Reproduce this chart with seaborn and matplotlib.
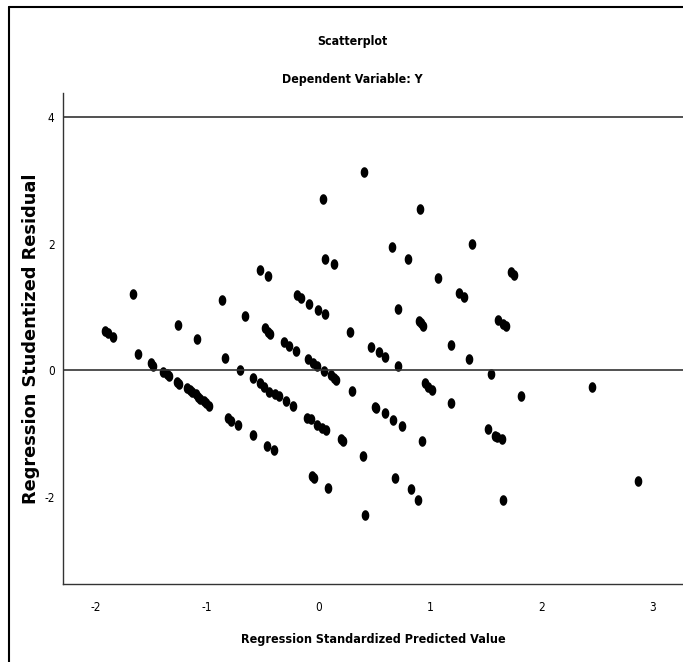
import numpy as np
import pandas as pd
import matplotlib
matplotlib.use("Agg")
import matplotlib.pyplot as plt
from matplotlib.lines import Line2D
import seaborn as sns

# Values
predicted = [
    -1.91, -1.89, -1.84, -1.62, -1.50, -1.48, -1.39, -1.36, -1.34, -1.27,
    -1.25, -1.18, -1.15, -1.13, -1.10, -1.08, -1.06, -1.03, -1.01, -0.98,
    -1.66, -1.26, -1.09, -0.86, -0.84, -0.81, -0.78, -0.72, -0.70, -0.66,
    -0.59, -0.59, -0.52, -0.45, -0.52, -0.49, -0.44, -0.39, -0.35, -0.48,
    -0.45, -0.43, -0.46, -0.40, -0.31, -0.26, -0.29, -0.23, -0.20, -0.19,
    -0.16, -0.10, -0.07, -0.09, -0.05, -0.08, -0.06, -0.04, -0.01, -0.01,
    0.00, 0.03, 0.04, 0.05, 0.06, 0.06, 0.07, 0.09, 0.11, 0.14,
    0.14, 0.16, 0.20, 0.22, 0.28, 0.30, 0.40, 0.41, 0.42, 0.47,
    0.54, 0.60, 0.51, 0.52, 0.60, 0.67, 0.75, 0.66, 0.69, 0.71,
    0.71, 0.80, 0.83, 0.89, 0.90, 0.92, 0.94, 0.91, 0.93, 0.96,
    0.98, 1.02, 1.07, 1.19, 1.19, 1.26, 1.31, 1.35, 1.38, 1.52,
    1.55, 1.58, 1.60, 1.61, 1.65, 1.66, 1.68, 1.66, 1.73, 1.75,
    1.82, 2.45, 2.87,
]
residual = [
    0.62, 0.59, 0.52, 0.25, 0.11, 0.07, -0.03, -0.06, -0.09, -0.18,
    -0.22, -0.28, -0.32, -0.35, -0.38, -0.42, -0.45, -0.49, -0.52, -0.56,
    1.21, 0.71, 0.49, 1.11, 0.19, -0.76, -0.80, -0.86, 0.01, 0.85,
    -0.12, -1.02, 1.59, 1.49, -0.21, -0.26, -0.34, -0.37, -0.41, 0.66,
    0.61, 0.57, -1.20, -1.26, 0.44, 0.38, -0.49, -0.56, 0.30, 1.18,
    1.14, -0.75, -0.78, 0.17, 0.12, 1.04, -1.68, -1.71, 0.07, -0.86,
    0.95, -0.91, 2.70, -0.01, 1.76, 0.89, -0.95, -1.86, -0.07, -0.12,
    1.67, -0.15, -1.09, -1.12, 0.61, -0.33, -1.35, 3.13, -2.29, 0.37,
    0.29, 0.21, -0.58, -0.60, -0.67, -0.79, -0.88, 1.94, -1.70, 0.97,
    0.07, 1.75, -1.88, -2.06, 0.78, 0.74, 0.70, 2.54, -1.12, -0.21,
    -0.26, -0.32, 1.45, 0.39, -0.52, 1.22, 1.15, 0.18, 2.00, -0.93,
    -0.06, -1.04, -1.05, 0.79, -1.09, 0.73, 0.70, -2.05, 1.55, 1.51,
    -0.41, -0.27, -1.75,
]
x_ticks = [-2, -1, 0, 1, 2, 3]
y_ticks = [-2, 0, 2, 4]
ref_lines = [0, 4]

df = pd.DataFrame({"pred": predicted, "resid": residual})

sns.set_style("white")
plt.rcParams["text.color"] = "black"
plt.rcParams["axes.labelcolor"] = "black"
plt.rcParams["xtick.color"] = "black"
plt.rcParams["ytick.color"] = "black"

narrow = dict(family=["DejaVu Sans"], stretch="condensed")
wide = dict(family=["DejaVu Sans"])

# slightly tall ellipse marker (the reference dots are taller than wide)
t = np.linspace(0, 2 * np.pi, 40)
dot = np.column_stack([0.72 * np.cos(t), np.sin(t)])

fig = plt.figure(figsize=(6.83, 6.62), dpi=100)
ax = fig.add_axes([63 / 683, 78 / 662, 620 / 683, 491 / 662])

sns.scatterplot(data=df, x="pred", y="resid", ax=ax, color="black",
                marker=dot, s=58, edgecolor="black", linewidth=0)

for v in ref_lines:
    ax.axhline(v, color="#333333", lw=1.2, zorder=1)

ax.set_xlim(-2.29, 3.27)
ax.set_ylim(-3.38, 4.38)
ax.set_xticks(x_ticks)
ax.set_yticks(y_ticks)
ax.set_xticklabels([str(v) for v in x_ticks], fontsize=8.5, **narrow)
ax.set_yticklabels([str(v) for v in y_ticks], fontsize=8.5, **narrow)
ax.tick_params(length=0)
ax.tick_params(axis="x", pad=12)
ax.tick_params(axis="y", pad=6)

for side in ["top", "right"]:
    ax.spines[side].set_visible(False)
for side in ["left", "bottom"]:
    ax.spines[side].set_color("#333333")
    ax.spines[side].set_linewidth(1.0)

ax.set_xlabel("Regression Standardized Predicted Value", fontsize=9.0,
              fontweight="bold", labelpad=14, **narrow)
ax.set_ylabel("Regression Studentized Residual", fontsize=12.8,
              fontweight="bold", labelpad=3, **wide)

fig.text(352 / 683, 1 - 42 / 662, "Scatterplot", fontsize=8.9,
         fontweight="bold", ha="center", va="center", **narrow)
fig.text(352 / 683, 1 - 80 / 662, "Dependent Variable: Y", fontsize=8.9,
         fontweight="bold", ha="center", va="center", **narrow)

# outer frame (left and top edges visible in the reference)
fig.add_artist(Line2D([9 / 683, 9 / 683], [0, 1 - 7 / 662], color="black",
                      lw=1.5, transform=fig.transFigure))
fig.add_artist(Line2D([9 / 683, 1], [1 - 7 / 662, 1 - 7 / 662], color="black",
                      lw=1.5, transform=fig.transFigure))

fig.savefig("out.png", dpi=100)
